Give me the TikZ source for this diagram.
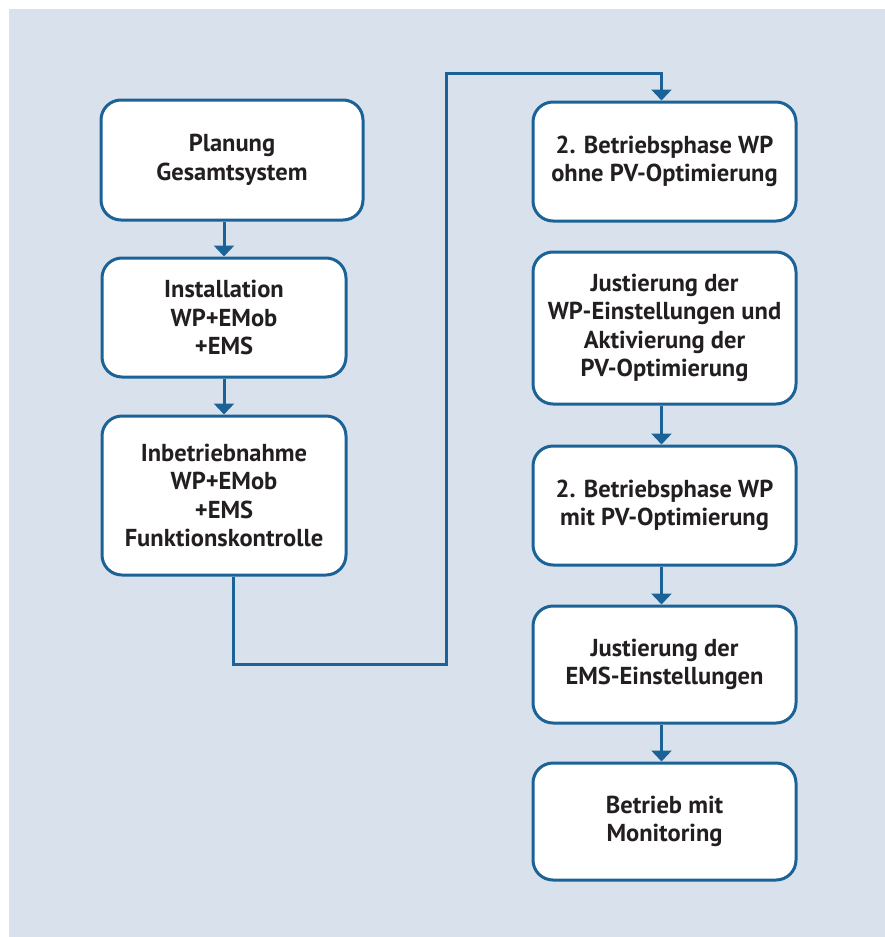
\documentclass[tikz,border=0pt]{standalone}
\usepackage{fontspec}
\setmainfont{PT Sans}
\usetikzlibrary{arrows.meta}
\definecolor{bgblue}{HTML}{D9E1EC}
\definecolor{lineblue}{HTML}{1B6396}
\definecolor{textdark}{HTML}{231F20}
\tikzset{
  box/.style={draw=lineblue,line width=3pt,fill=white,rounded corners=20pt,
    align=center,text=textdark,font=\fontsize{24.5}{28.5}\selectfont\bfseries,
    inner sep=0pt},
  arr/.style={draw=lineblue,line width=3pt,-{Triangle[width=20pt,length=11pt]}}
}
\begin{document}
\begin{tikzpicture}[x=1pt,y=-1pt]
      \fill[white] (0,0) rectangle (885,937);
      \fill[bgblue] (9,9) rectangle (885,937);
      \draw
        (232,160) node[box,minimum width=262pt,minimum height=120pt] (plan){Planung\\Gesamtsystem}
        (224,317.5) node[box,minimum width=244pt,minimum height=119pt] (inst){Installation\\WP+EMob\\+EMS}
        (224,495.5) node[box,minimum width=244pt,minimum height=159pt] (inbetr){Inbetriebnahme\\WP+EMob\\+EMS\\Funktionskontrolle}
        (664.5,161.5) node[box,minimum width=263pt,minimum height=119pt] (ohnepv){2. Betriebsphase WP\\ohne PV-Optimierung}
        (664.5,328) node[box,minimum width=263pt,minimum height=152pt] (justwp){Justierung der\\WP-Einstellungen und\\Aktivierung der\\PV-Optimierung}
        (664.5,505.5) node[box,minimum width=263pt,minimum height=119pt] (mitpv){2. Betriebsphase WP\\mit PV-Optimierung}
        (664.5,664.5) node[box,minimum width=263pt,minimum height=117pt] (justems){Justierung der\\EMS-Einstellungen}
        (664.5,821.5) node[box,minimum width=263pt,minimum height=117pt] (monitor){Betrieb mit\\Monitoring};
      \coordinate (bend) at (446,73);
      \begin{scope}[arr]
        \draw ([xshift=-8pt]plan.south) to (inst.north);
        \draw (inst) to (inbetr);
        \draw ([xshift=9pt]inbetr.south) -- ++(0,88) -| (bend) -| ([xshift=-3pt]ohnepv.north);
        \draw ([xshift=-3pt]justwp.south) to ([xshift=-3pt]mitpv.north);
        \draw ([xshift=-3pt]mitpv.south) to ([xshift=-3pt]justems.north);
        \draw ([xshift=-3pt]justems.south) to ([xshift=-3pt]monitor.north);
      \end{scope}
    \end{tikzpicture}
\end{document}
